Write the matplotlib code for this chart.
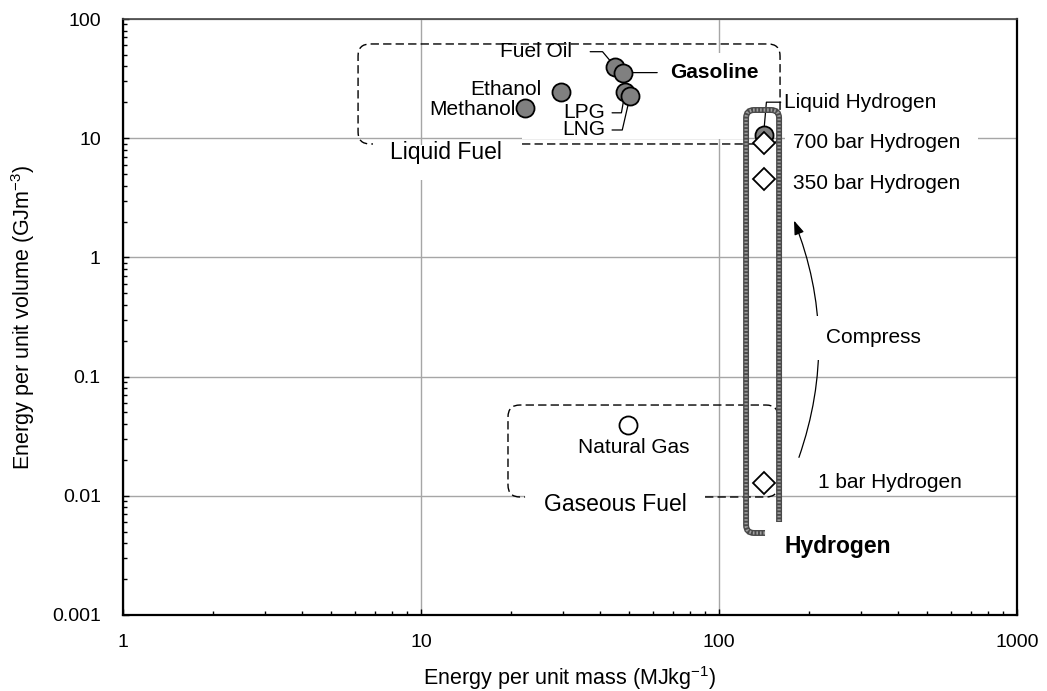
import matplotlib
matplotlib.use('Agg')
import matplotlib.pyplot as plt
from matplotlib.path import Path
from matplotlib.patches import PathPatch, Rectangle, FancyArrowPatch
from matplotlib.ticker import FixedLocator, LogLocator, NullFormatter, FuncFormatter

plt.rcParams['font.family'] = ['Liberation Sans', 'DejaVu Sans']
plt.rcParams['mathtext.fontset'] = 'custom'
plt.rcParams['mathtext.rm'] = 'Liberation Sans'

# liquid fuels: energy per mass (MJ/kg) and per volume (GJ/m3)
liquid_names = ['Methanol', 'Ethanol', 'Fuel Oil', 'Gasoline', 'LPG', 'LNG', 'Liquid Hydrogen']
liquid_mass = [22.3, 29.4, 44.8, 47.5, 48.4, 50.3, 141]
liquid_volume = [17.9, 24.5, 39.8, 35.5, 24.5, 22.6, 10.6]

# gaseous fuel
gas_names = ['Natural Gas']
gas_mass = [49.6]
gas_volume = [0.039]

# compressed hydrogen
h2_names = ['700 bar Hydrogen', '350 bar Hydrogen', '1 bar Hydrogen']
h2_mass = [141, 141, 141]
h2_volume = [9.06, 4.52, 0.0127]

x_ticks = [1, 10, 100, 1000]
y_ticks = [0.001, 0.01, 0.1, 1, 10, 100]

AX_W, AX_H = 894, 596  # axes size in pixels, used for round corners

# where each label sits relative to its marker (pixels) and how its leader runs
label_layout = {
    'Methanol': dict(off=(-9, -1), ha='right'),
    'Ethanol': dict(off=(-19, 2), ha='right'),
    'Fuel Oil': dict(off=(-43, 15), ha='right', relpos=(1, 0.5), shrink=11,
                     conn='angle,angleA=0,angleB=130,rad=0'),
    'Gasoline': dict(off=(47, 0), ha='left', relpos=(0, 0.5), shrink=7,
                     conn='arc3,rad=0', weight='bold'),
    'LPG': dict(off=(-20, -21), ha='right', relpos=(1, 0.5), shrink=3,
                conn='angle,angleA=0,angleB=80,rad=0'),
    'LNG': dict(off=(-25, -34), ha='right', relpos=(1, 0.5), shrink=3,
                conn='angle,angleA=0,angleB=77,rad=0'),
    'Liquid Hydrogen': dict(off=(20, 33), ha='left', relpos=(0, 0.5), shrink=0,
                            conn='angle,angleA=0,angleB=85,rad=0'),
    'Natural Gas': dict(off=(5, -22), ha='center'),
    '700 bar Hydrogen': dict(off=(29, 1), ha='left'),
    '350 bar Hydrogen': dict(off=(29, -4), ha='left'),
    '1 bar Hydrogen': dict(off=(54, 1), ha='left'),
}


def rounded_outline(x0, x1, y0, y1, r, gap=None):
    """Rounded rectangle in axes fraction; optional gap in the bottom edge."""
    rx, ry = r / AX_W, r / AX_H
    g0, g1 = gap if gap else (x0 + rx, x0 + rx)
    verts = [(g1, y0), (x1 - rx, y0), (x1, y0), (x1, y0 + ry),
             (x1, y1 - ry), (x1, y1), (x1 - rx, y1),
             (x0 + rx, y1), (x0, y1), (x0, y1 - ry),
             (x0, y0 + ry), (x0, y0), (x0 + rx, y0), (g0, y0)]
    codes = [Path.MOVETO, Path.LINETO, Path.CURVE3, Path.CURVE3,
             Path.LINETO, Path.CURVE3, Path.CURVE3,
             Path.LINETO, Path.CURVE3, Path.CURVE3,
             Path.LINETO, Path.CURVE3, Path.CURVE3, Path.LINETO]
    return Path(verts, codes)


def bracket_outline(x0, x1, y_top, y_left, y_right, x_hook, r):
    rx, ry = r / AX_W, r / AX_H
    verts = [(x_hook, y_left), (x0 + rx, y_left), (x0, y_left), (x0, y_left + ry),
             (x0, y_top - ry), (x0, y_top), (x0 + rx, y_top),
             (x1 - rx, y_top), (x1, y_top), (x1, y_top - ry),
             (x1, y_right)]
    codes = [Path.MOVETO, Path.LINETO, Path.CURVE3, Path.CURVE3,
             Path.LINETO, Path.CURVE3, Path.CURVE3,
             Path.LINETO, Path.CURVE3, Path.CURVE3,
             Path.LINETO]
    return Path(verts, codes)


fig = plt.figure(figsize=(10.47, 6.91), dpi=100)
ax = fig.add_axes([0.1175, 0.1100, 0.8539, 0.8625])
ax.set_xscale('log')
ax.set_yscale('log')
ax.set_xlim(x_ticks[0], x_ticks[-1])
ax.set_ylim(y_ticks[0], y_ticks[-1])

ax.set_axisbelow(True)
ax.grid(True, which='major', color='#a6a6a6', lw=1)

fmt = FuncFormatter(lambda v, _: f'{v:g}')
ax.xaxis.set_major_locator(FixedLocator(x_ticks))
ax.yaxis.set_major_locator(FixedLocator(y_ticks))
ax.xaxis.set_major_formatter(fmt)
ax.yaxis.set_major_formatter(fmt)
for axis in (ax.xaxis, ax.yaxis):
    axis.set_minor_locator(LogLocator(base=10, subs=range(2, 10), numticks=20))
    axis.set_minor_formatter(NullFormatter())
ax.tick_params(which='both', direction='in', top=False, right=False,
               width=1, labelsize=14, color='black')
ax.tick_params(which='major', length=4)
ax.tick_params(which='minor', length=3)
ax.tick_params(axis='x', pad=14)
ax.tick_params(axis='y', pad=16)
for side in ['left', 'bottom', 'right']:
    ax.spines[side].set_linewidth(1.6)
ax.spines['top'].set_linewidth(1.2)
ax.spines['top'].set_color('#444444')

ax.set_xlabel(r'Energy per unit mass (MJkg$^{\mathregular{-1}}$)', fontsize=15.5, labelpad=9)
ax.set_ylabel(r'Energy per unit volume (GJm$^{\mathregular{-3}}$)', fontsize=15.5, labelpad=11)

# white areas where the grid is hidden behind the group boxes and labels
hide_grid = [(0.4463, 0.6969, 0.7987, 0.9430),   # inside the liquid box, right of its label
             (0.2796, 0.4463, 0.7300, 0.7890),   # behind "Liquid Fuel"
             (0.7405, 0.9564, 0.7920, 0.8080),   # behind "700 bar Hydrogen"
             (0.4497, 0.6510, 0.1920, 0.2080)]   # behind "Gaseous Fuel"
for x0, x1, y0, y1 in hide_grid:
    ax.add_patch(Rectangle((x0, y0), x1 - x0, y1 - y0, transform=ax.transAxes,
                           fc='white', ec='none', zorder=1))

# dashed group outlines
liquid_box = rounded_outline(0.2629, 0.7349, 0.7903, 0.9581, 12, gap=(0.2796, 0.4463))
gas_box = rounded_outline(0.4306, 0.7327, 0.1980, 0.3523, 12, gap=(0.4497, 0.6510))
for p in (liquid_box, gas_box):
    ax.add_patch(PathPatch(p, transform=ax.transAxes, fill=False, ec='black',
                           lw=1, ls=(0, (6, 3)), zorder=2, clip_on=False))
ax.text(0.3613, 0.7768, 'Liquid Fuel', transform=ax.transAxes, fontsize=16.5,
        ha='center', va='center', zorder=2)
ax.text(0.5503, 0.1846, 'Gaseous Fuel', transform=ax.transAxes, fontsize=16.5,
        ha='center', va='center', zorder=2)

# hatched hydrogen bracket
h2_path = bracket_outline(0.6969, 0.7338, 0.8473, 0.1376, 0.1560, 0.7181, 8)
ax.add_patch(PathPatch(h2_path, transform=ax.transAxes, fill=False, ec='#4a4a4a',
                       lw=4.3, capstyle='butt', zorder=2.8))
ax.add_patch(PathPatch(h2_path, transform=ax.transAxes, fill=False, ec='#a0a0a0',
                       lw=2.3, ls=(0, (0.5, 0.6)), capstyle='butt', zorder=2.9))
ax.text(0.7992, 0.1141, 'Hydrogen', transform=ax.transAxes, fontsize=16.5,
        fontweight='bold', ha='center', va='center')

# compression arrow
arrow = FancyArrowPatch((0.7550, 0.2601), (0.7494, 0.6661), transform=ax.transAxes,
                        connectionstyle='arc3,rad=0.19',
                        arrowstyle='-|>,head_length=0.7,head_width=0.25',
                        mutation_scale=12, lw=0.9, color='black', zorder=2)
ax.add_patch(arrow)
ax.text(0.8395, 0.4648, 'Compress', transform=ax.transAxes, fontsize=15,
        ha='center', va='center', zorder=2.2,
        bbox=dict(boxstyle='square,pad=0.6', fc='white', ec='none'))

# markers
ax.plot(liquid_mass, liquid_volume, ls='none', marker='o', ms=13,
        mfc='#808080', mec='black', mew=1.3, zorder=3)
ax.plot(gas_mass, gas_volume, ls='none', marker='o', ms=13,
        mfc='white', mec='black', mew=1.3, zorder=3)
ax.plot(h2_mass, h2_volume, ls='none', marker='D', ms=11,
        mfc='white', mec='black', mew=1.3, zorder=4)

# point labels with leaders
names = liquid_names + gas_names + h2_names
xs = liquid_mass + gas_mass + h2_mass
ys = liquid_volume + gas_volume + h2_volume
for name, x, y in zip(names, xs, ys):
    lay = label_layout[name]
    kw = dict(xy=(x, y), xytext=lay['off'], textcoords='offset pixels',
              ha=lay['ha'], va='center', fontsize=15,
              fontweight=lay.get('weight', 'normal'), zorder=2.5)
    if 'conn' in lay:
        kw['arrowprops'] = dict(arrowstyle='-', color='black', lw=0.9,
                                connectionstyle=lay['conn'], relpos=lay['relpos'],
                                shrinkA=lay['shrink'], shrinkB=0)
    ax.annotate(name, **kw)

fig.savefig('out.png', dpi=100)
